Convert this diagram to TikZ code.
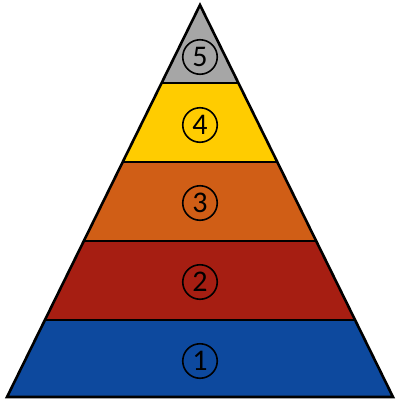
\documentclass[tikz,border=0pt]{standalone}
\usepackage{fontspec}
\setmainfont{Carlito}
\begin{document}
\begin{tikzpicture}[x=1pt,y=-1pt,
  band/.style={draw=black,line width=2.6pt,line join=miter},
  num/.style={circle,draw=black,line width=1.6pt,minimum size=34.5pt,inner sep=0pt,font=\fontsize{30}{30}\selectfont}]
\useasboundingbox (0,0) rectangle (400,402);
% corners
\coordinate (T) at (200,5);
\coordinate (L1) at (161.6,83);  \coordinate (R1) at (238.4,83);
\coordinate (L2) at (122.7,162); \coordinate (R2) at (277.3,162);
\coordinate (L3) at (83.8,241);  \coordinate (R3) at (316.2,241);
\coordinate (L4) at (44.9,320);  \coordinate (R4) at (355.1,320);
\coordinate (BL) at (7,397);     \coordinate (BR) at (393,397);
% bands
\fill[fill={rgb,255:red,166;green,166;blue,166}] (T) -- (L1) -- (R1) -- cycle;
\fill[fill={rgb,255:red,255;green,204;blue,0}] (L1) -- (L2) -- (R2) -- (R1) -- cycle;
\fill[fill={rgb,255:red,208;green,94;blue,22}] (L2) -- (L3) -- (R3) -- (R2) -- cycle;
\fill[fill={rgb,255:red,166;green,30;blue,18}] (L3) -- (L4) -- (R4) -- (R3) -- cycle;
\fill[fill={rgb,255:red,13;green,73;blue,158}] (L4) -- (BL) -- (BR) -- (R4) -- cycle;
% outlines
\draw[band] (T) -- (BL) -- (BR) -- cycle;
\draw[band] (L1) -- (R1);
\draw[band] (L2) -- (R2);
\draw[band] (L3) -- (R3);
\draw[band] (L4) -- (R4);
% numbers
\node[num] (n5) at (200,57) {5};
\node[num] (n4) at (200,125) {4};
\node[num] (n3) at (200,203) {3};
\node[num] (n2) at (200,282) {2};
\node[num] (n1) at (200,361) {1};
\end{tikzpicture}
\end{document}
